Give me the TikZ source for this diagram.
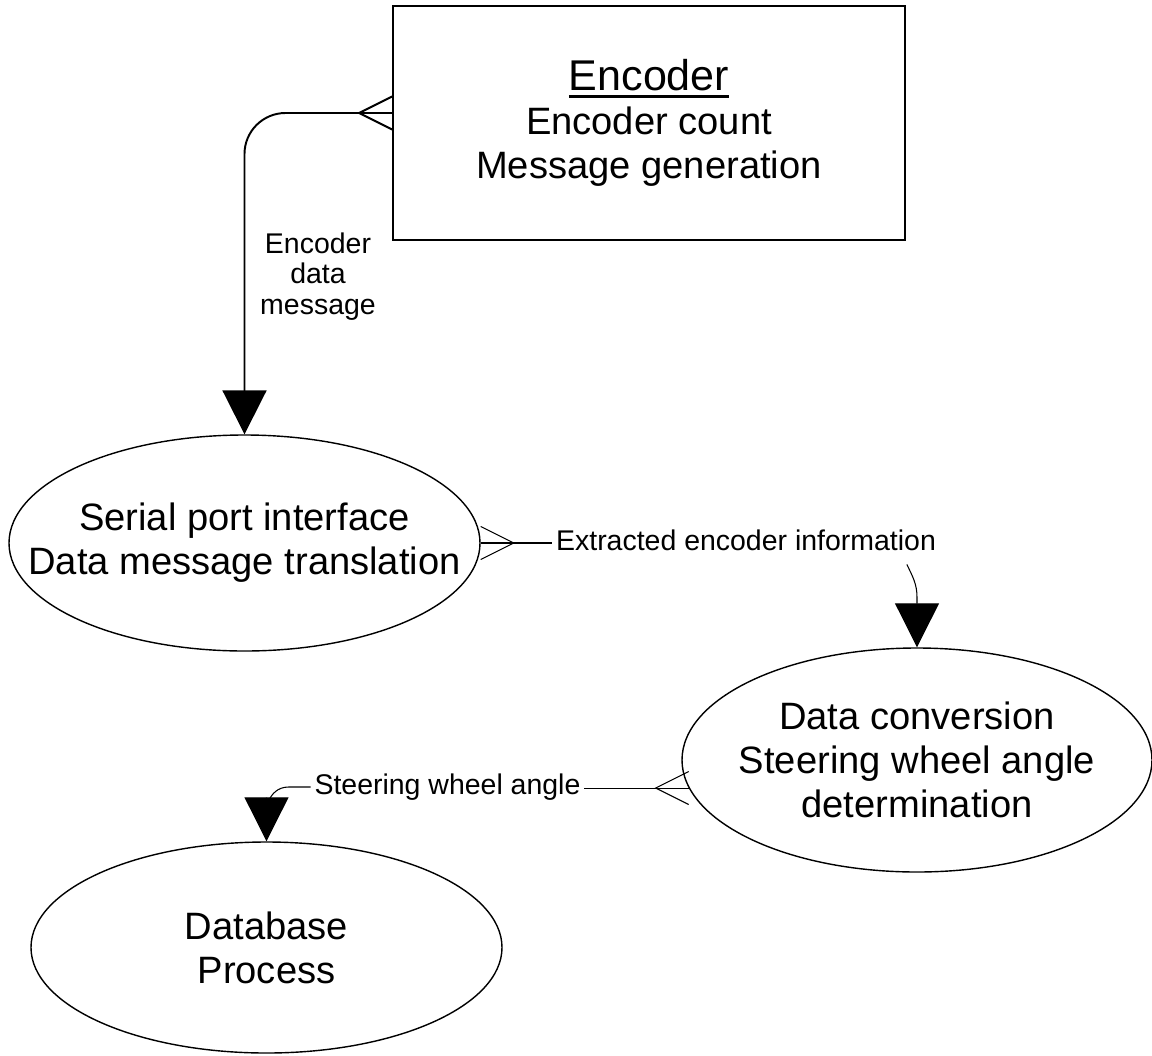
\documentclass[tikz,border=0pt]{standalone}
\usepackage{fontspec}
\setmainfont{Liberation Sans}
\usetikzlibrary{shapes.geometric,arrows.meta,positioning}
\tikzset{
every picture/.style={
line width=0.6pt
}}
\tikzset{
crowfoot/.pic={
  \draw (0,0) -- (-0.66cm,0);
  \draw (0,0.33cm) -- (-0.66cm,0) -- (0,-0.33cm);
  }}
\newcommand\headline[1]{\vtop{\hbox{#1}\kern2pt\hrule height 1.7pt}}

\begin{document}
\begin{tikzpicture}[
proc/.style = {ellipse, draw, line width=0.8pt, inner sep=-1cm, align=center, font=\fontsize{21.7}{25}\selectfont},
flow/.style = {align=center, inner sep=2pt, font=\fontsize{16.2}{17.5}\selectfont},
tip/.style = {-{Triangle[length=0.88cm,width=0.88cm]}}]

\useasboundingbox (0,0) rectangle (23.04,-21.1);

\node [draw, line width=1pt, minimum width=10.24cm, minimum height=4.68cm, align=center, font=\fontsize{21.7}{25}\selectfont] at (12.98,-2.46) (enc) {{\fontsize{24.5}{28}\selectfont\headline{Encoder}}\\Encoder count\\Message generation};

\node [proc, minimum width=9.42cm, minimum height=4.32cm] at (4.89,-10.86) (ser) {Serial port interface\\Data message translation};
\node [proc, minimum width=9.4cm, minimum height=4.48cm] at (18.34,-15.2) (dat) {Data conversion\\Steering wheel angle\\determination};
\node [proc, minimum width=9.42cm, minimum height=4.22cm] at (5.33,-18.95) (db) {Database\\Process};

\node [flow] at (6.36,-5.53) (l1) {Encoder\\data\\message};
\node [flow] at (14.92,-10.8) (l2) {Extracted encoder information};
\node [flow] at (8.95,-15.74) (l3) {Steering wheel angle};

\path ([yshift=0.2cm]enc.west) pic [line width=1.1pt] {crowfoot};
\path (ser.east) pic [rotate=180] {crowfoot};
\path (dat.187) pic {crowfoot};

\draw [tip, line width=1.1pt, rounded corners=0.82cm] ([xshift=-0.66cm,yshift=0.2cm]enc.west) -| (ser.north);
\draw ([xshift=0.66cm]ser.east) -- (l2.west |- ser.east);
\draw [tip] ([xshift=-0.66cm,yshift=-0.2cm]l2.south east) to [out=-65,in=90] ([yshift=1cm]dat.north) -- (dat.north);
\draw ([xshift=-0.66cm]dat.187) -- (l3.east |- dat.187);
\draw [tip] (l3.west) -- ++(-0.44,0) to [out=180,in=90] (db.north);

\end{tikzpicture}
\end{document}
